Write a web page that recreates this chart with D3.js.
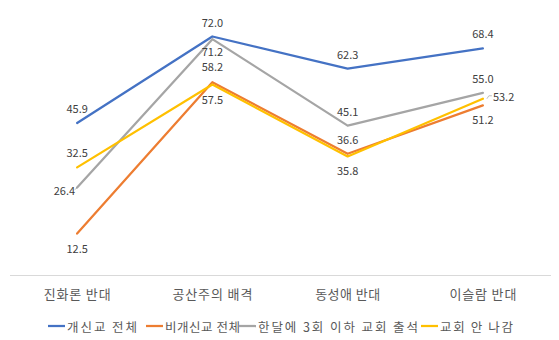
<!DOCTYPE html>
<html><head><meta charset="utf-8">
<script src="https://cdn.jsdelivr.net/npm/d3@7"></script>
<style>
html,body{margin:0;padding:0;background:#fff;}
svg{display:block;font-family:"Noto Sans CJK KR","Noto Sans",sans-serif;}
</style></head>
<body><svg id="c" width="559" height="340"></svg>
<script>
const categories = ["진화론 반대", "공산주의 배격", "동성애 반대", "이슬람 반대"];
const seriesNames = ["개신교 전체", "비개신교 전체", "한달에 3회 이하 교회 출석", "교회 안 나감"];
const protestantAll = [45.9, 72.0, 62.3, 68.4];
const nonProtestantAll = [12.5, 58.2, 36.6, 51.2];
const monthlyAttend = [26.4, 71.2, 45.1, 55.0];
const noChurch = [32.5, 57.5, 35.8, 53.2];
const colors = ["#4472C4", "#ED7D31", "#A5A5A5", "#FFC000"];
// label placement per series per point
const labelPos = [
  ["above","above","above","above"],
  ["below","above","above","below"],
  ["left","below","above","above"],
  ["above","below","below","right"]
];
// layout: rendered text widths (to mimic the original font's wider spacing)
const catWidths = [67, 80, 65, 67];
const legendX = [48, 146, 239, 421];
const legendTextW = [70, 75, 160, 73];

const seriesValues = [protestantAll, nonProtestantAll, monthlyAttend, noChurch];
const svg = d3.select("#c");
const x = d3.scaleBand().domain(categories).range([9.5, 550.5]);
const y = d3.scaleLinear().domain([0, 80]).range([275, 10]);
const cx = c => x(c) + x.bandwidth() / 2;

// axis line
const xAxis = d3.axisBottom(x).tickSize(0).tickPadding(15);
const ax = svg.append("g").attr("transform", "translate(0,275)").call(xAxis);
ax.select(".domain").attr("stroke", "#D9D9D9").attr("stroke-width", 1);
ax.selectAll("text").attr("font-size", 13).attr("fill", "#595959")
  .attr("font-family", '"Noto Sans CJK KR",sans-serif')
  .attr("textLength", (d, i) => catWidths[i]).attr("lengthAdjust", "spacing");

const line = d3.line().x((d, i) => cx(categories[i])).y(d => y(d));
seriesValues.forEach((vals, s) => {
  svg.append("path").datum(vals).attr("d", line)
    .attr("fill", "none").attr("stroke", colors[s]).attr("stroke-width", 2.25)
    .attr("stroke-linejoin", "round").attr("stroke-linecap", "round");
});

// data labels
const lab = svg.append("g").attr("font-size", 11).attr("fill", "#404040");
seriesValues.forEach((vals, s) => {
  vals.forEach((v, i) => {
    const px = cx(categories[i]), py = y(v);
    const pos = labelPos[s][i];
    let tx = px, ty = py, anchor = "middle";
    if (pos === "above") ty = py - ((s === 1 && i === 1) ? 16.5 : 15);
    else if (pos === "below") ty = py + ((s === 2 && i === 1) ? 12 : 14);
    else if (pos === "left") { tx = px - 2; ty = py + 2; anchor = "end";
      lab.append("line").attr("x1", px).attr("y1", py).attr("x2", px - 2).attr("y2", py + 2).attr("stroke", "#A6A6A6"); }
    else if (pos === "right") { tx = px + 10; ty = py - 3; anchor = "start";
      lab.append("polyline").attr("points", `${px+4},${py} ${px+6},${py-3} ${px+9},${py-3}`).attr("fill","none").attr("stroke", "#BFBFBF"); }
    lab.append("text").attr("x", tx).attr("y", ty).attr("text-anchor", anchor)
      .attr("dominant-baseline", "central").text(v.toFixed(1));
  });
});

// legend
const lg = svg.append("g");
seriesNames.forEach((n, s) => {
  const g = lg.append("g").attr("transform", `translate(${legendX[s]},326)`);
  g.append("line").attr("x1", 0).attr("x2", 17).attr("y1", 0).attr("y2", 0)
    .attr("stroke", colors[s]).attr("stroke-width", 2.25);
  g.append("text").attr("x", 19).attr("y", 0).attr("dominant-baseline", "central")
    .attr("font-size", 12.5).attr("fill", "#595959")
    .attr("textLength", legendTextW[s]).attr("lengthAdjust", "spacing").text(n);
});
</script></body></html>
